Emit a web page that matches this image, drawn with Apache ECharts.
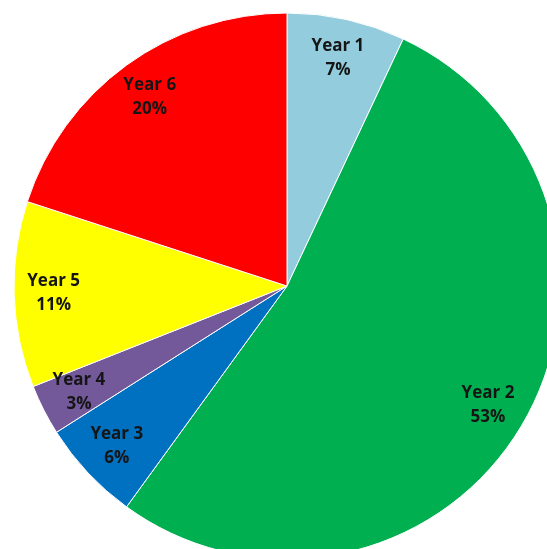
<!DOCTYPE html>
<html>
<head>
    <meta charset="utf-8">
    <title>Pie</title>
    <style>
        html, body { margin: 0; padding: 0; background: #fff; }
    </style>
</head>
<body>
<script src="https://cdn.jsdelivr.net/npm/echarts@6/dist/echarts.min.js"></script>
<div id="main" style="width: 547px;height:549px;"></div>
<script type="text/javascript">
    var categories = ['Year 1', 'Year 2', 'Year 3', 'Year 4', 'Year 5', 'Year 6'];
    var shares = [7, 53, 6, 3, 11, 20];
    var colors = ['#93CDDD', '#00B050', '#0070C0', '#74599A', '#FFFF00', '#FF0000'];

    var data = categories.map(function (name, i) {
        return { name: name, value: shares[i] };
    });

    var myChart = echarts.init(document.getElementById('main'));
    var option = {
        animation: false,
        color: colors,
        series: [{
            type: 'pie',
            center: [287, 286],
            radius: [0, 273],
            startAngle: 90,
            clockwise: true,
            silent: true,
            itemStyle: { borderColor: '#ffffff', borderWidth: 1 },
            label: { show: false },
            labelLine: { show: false },
            data: data
        }, {
            // transparent ring, only used to put the labels near the rim
            type: 'pie',
            center: [287, 286],
            radius: [188, 273],
            startAngle: 90,
            clockwise: true,
            silent: true,
            itemStyle: { color: 'rgba(0,0,0,0)' },
            label: {
                show: true,
                position: 'inside',
                formatter: function (p) { return p.name + '\n' + p.value + '%'; },
                color: '#151515',
                fontFamily: 'Open Sans',
                fontWeight: 'bold',
                fontSize: 17,
                lineHeight: 24
            },
            labelLine: { show: false },
            data: data
        }]
    };
    myChart.setOption(option);
</script>
</body>
</html>
